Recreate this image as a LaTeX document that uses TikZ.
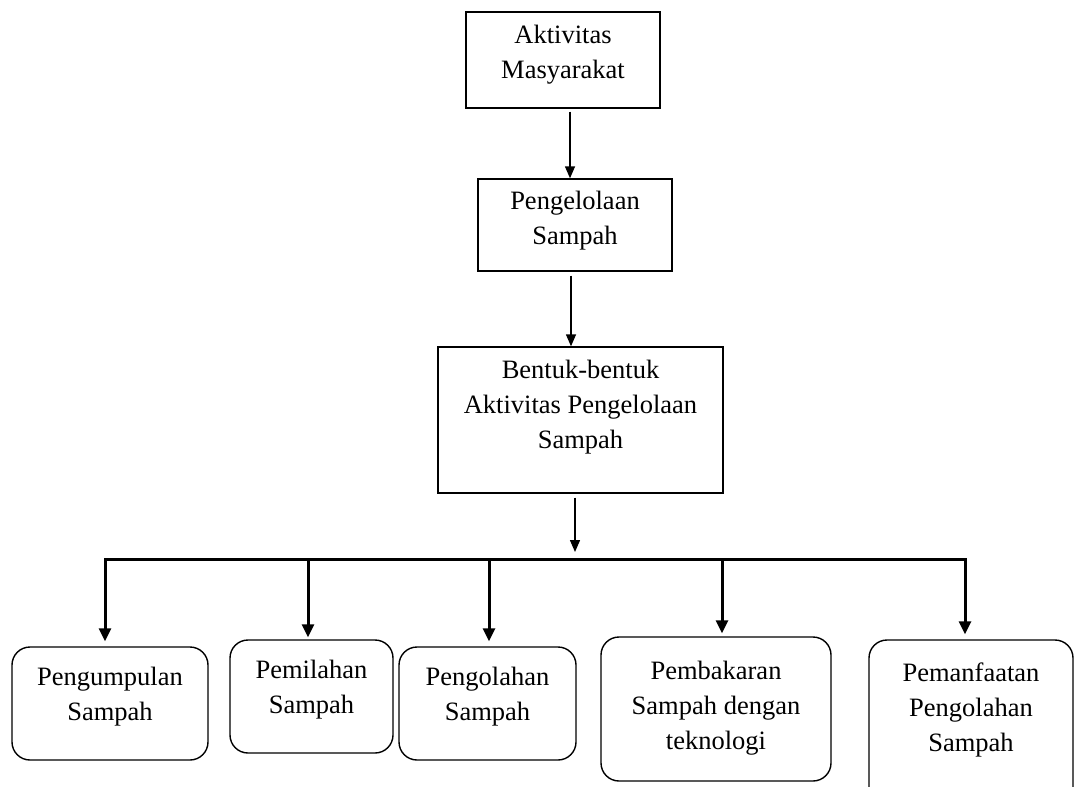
\documentclass[tikz,border=0pt]{standalone}
\usepackage{fontspec}
\setmainfont{Liberation Serif}
\usetikzlibrary{arrows.meta}
\begin{document}
\begin{tikzpicture}[x=1pt,y=-1pt,
  box/.style={draw, line width=1.4pt, inner sep=0pt},
  rbox/.style={box, rounded corners=18pt},
  txt/.style={align=center, inner sep=0pt, font=\fontsize{26.5}{35}\selectfont},
  thinarrow/.style={line width=1.4pt, -{Triangle[length=12pt,width=10pt]}},
  thickarrow/.style={line width=3pt, -{Triangle[length=13pt,width=12pt]}}]
\clip (0,0) rectangle (1074,787);
\fill[white] (0,0) rectangle (1074,787);
% top boxes
\node[box, minimum width=194pt, minimum height=96pt] (b1) at (563,60) {};
\node[txt] (t1) at (563,55) {Aktivitas\\Masyarakat};
\node[box, minimum width=194pt, minimum height=92pt] (b2) at (575,225) {};
\node[txt] (t2) at (575,221) {Pengelolaan\\Sampah};
\node[box, minimum width=285pt, minimum height=146pt] (b3) at (580.5,420) {};
\node[txt] (t3) at (580.5,407) {Bentuk-bentuk\\Aktivitas Pengelolaan\\Sampah};
% bottom boxes
\node[rbox, minimum width=196pt, minimum height=113pt] (c1) at (110,703.5) {};
\node[txt] (u1) at (110,697) {Pengumpulan\\Sampah};
\node[rbox, minimum width=163pt, minimum height=113pt] (c2) at (311.5,696.5) {};
\node[txt] (u2) at (311.5,690) {Pemilahan\\Sampah};
\node[rbox, minimum width=177pt, minimum height=113pt] (c3) at (487.5,703.5) {};
\node[txt] (u3) at (487.5,697) {Pengolahan\\Sampah};
\node[rbox, minimum width=230pt, minimum height=144pt] (c4) at (716,709) {};
\node[txt] (u4) at (716,708) {Pembakaran\\Sampah dengan\\teknologi};
\node[rbox, minimum width=204pt, minimum height=170pt] (c5) at (971,725) {};
\node[txt] (u5) at (971,710) {Pemanfaatan\\Pengolahan\\Sampah};
% connector coordinates
\coordinate (x1) at (570,0);
\coordinate (x2) at (571,0);
\coordinate (x3) at (575,0);
\coordinate (j1) at (105,559);
\coordinate (j2) at (308,559);
\coordinate (j3) at (489,559);
\coordinate (j4) at (722,559);
\coordinate (j5) at (965,559);
% top connectors
\draw[thinarrow, shorten <=3pt] (x1 |- b1.south) -- (x1 |- b2.north);
\draw[thinarrow, shorten <=4pt] (x2 |- b2.south) -- (x2 |- b3.north);
\draw[thinarrow, shorten <=4pt, shorten >=7pt] (x3 |- b3.south) -- (x3 |- j3);
% bus and branches
\draw[line width=3pt] (j1) -- (j5);
\draw[thickarrow, shorten >=5pt] (j3) -- (j1) -- (j1 |- c1.north);
\draw[thickarrow, shorten >=2pt] (j2) -- (j2 |- c2.north);
\draw[thickarrow, shorten >=5pt] (j3) -- (j3 |- c3.north);
\draw[thickarrow, shorten >=3pt] (j4) -- (j4 |- c4.north);
\draw[thickarrow, shorten >=5pt] (j3) -- (j5) -- (j5 |- c5.north);
\end{tikzpicture}
\end{document}
